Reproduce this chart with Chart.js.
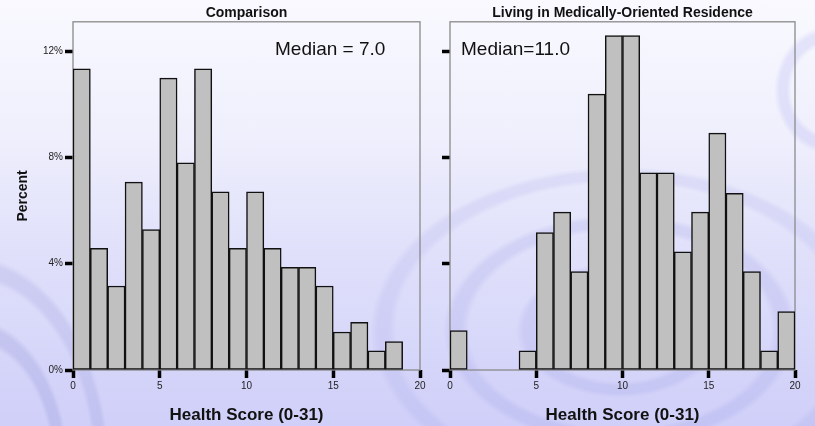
<!DOCTYPE html>
<html>
<head>
<meta charset="utf-8">
<title>Health Score histograms</title>
<script src="https://cdn.jsdelivr.net/npm/chart.js@4.4.1/dist/chart.umd.min.js"></script>
<style>
  html, body { margin: 0; padding: 0; }
  body {
    width: 815px;
    height: 426px;
    overflow: hidden;
    position: relative;
    background:
      radial-gradient(ellipse 260px 170px at 620px 330px, rgba(150,150,225,0) 0px, rgba(150,150,225,0) 30%, rgba(150,150,225,0.2) 33%, rgba(150,150,225,0.2) 37%, rgba(150,150,225,0) 40%, rgba(150,150,225,0) 58%, rgba(150,150,225,0.2) 61%, rgba(150,150,225,0.2) 65%, rgba(150,150,225,0) 68%, rgba(150,150,225,0) 86%, rgba(150,150,225,0.16) 89%, rgba(150,150,225,0.16) 93%, rgba(150,150,225,0) 96%),
      radial-gradient(ellipse 150px 230px at -30px 470px, rgba(140,140,210,0) 0px, rgba(140,140,210,0) 55%, rgba(140,140,210,0.25) 58%, rgba(140,140,210,0.25) 63%, rgba(140,140,210,0) 66%, rgba(140,140,210,0) 82%, rgba(140,140,210,0.2) 85%, rgba(140,140,210,0.2) 90%, rgba(140,140,210,0) 93%),
      radial-gradient(ellipse 70px 80px at 830px 90px, rgba(170,170,240,0) 0%, rgba(170,170,240,0) 55%, rgba(170,170,240,0.25) 62%, rgba(170,170,240,0.25) 72%, rgba(170,170,240,0) 80%),
      linear-gradient(to bottom, #f9f9ff 0%, #f0f0fd 30%, #e2e2fb 55%, #cfcff9 100%);
  }
  canvas { position: absolute; top: 0; }
  #leftChart { left: 0; }
  #rightChart { left: 430px; }
</style>
</head>
<body>
<canvas id="leftChart" width="430" height="426"></canvas>
<canvas id="rightChart" width="385" height="426"></canvas>
<script>
'use strict';

// histogram bins, one per score 0..19 (bin i covers i to i+1)
let bins = ['0', '1', '2', '3', '4', '5', '6', '7', '8', '9', '10', '11', '12', '13', '14', '15', '16', '17', '18', '19'];

// percent of people in each bin
let comparisonPercent = [11.33, 4.58, 3.16, 7.07, 5.28, 10.98, 7.79, 11.33, 6.70, 4.58, 6.70, 4.58, 3.86, 3.86, 3.16, 1.43, 1.79, 0.72, 1.07, null];
let residencePercent = [1.48, null, null, null, 0.72, 5.17, 5.94, 3.70, 10.38, 12.58, 12.58, 7.42, 7.42, 4.45, 5.94, 8.91, 6.65, 3.70, 0.72, 2.20];

let xTicks = [0, 5, 10, 15, 20];
let yTicks = [0, 4, 8, 12];
let yMax = 13.1;

let titles = ['Comparison', 'Living in Medically-Oriented Residence'];
let medianTexts = ['Median = 7.0', 'Median=11.0'];
let xTitle = 'Health Score (0-31)';
let yTitle = 'Percent';

Chart.defaults.font.family = '"Liberation Sans", Arial, Helvetica, sans-serif';
Chart.defaults.color = '#111';

// grey box round the plot area
let framePlugin = {
  id: 'frame',
  beforeDatasetsDraw(chart) {
    let a = chart.chartArea;
    let ctx = chart.ctx;
    ctx.save();
    ctx.strokeStyle = '#8a8a8a';
    ctx.lineWidth = 1.3;
    ctx.strokeRect(a.left, a.top, a.right - a.left, a.bottom - a.top);
    ctx.restore();
  }
};

// "Median = ..." note inside the plot
let medianPlugin = {
  id: 'median',
  afterDraw(chart, args, opts) {
    let a = chart.chartArea;
    let ctx = chart.ctx;
    ctx.save();
    ctx.font = '19px "Liberation Sans", Arial, sans-serif';
    ctx.fillStyle = '#111';
    ctx.textBaseline = 'middle';
    ctx.textAlign = 'left';
    ctx.fillText(opts.text, a.left + opts.dx, a.top + 28);
    ctx.restore();
  }
};

function makeHistogram(canvasId, values, idx, yWidth, showYLabels, padRight) {
  let ctx = document.getElementById(canvasId).getContext('2d');
  return new Chart(ctx, {
    type: 'bar',
    data: {
      labels: bins,
      datasets: [{
        data: values,
        backgroundColor: '#c0c0c0',
        borderColor: '#111',
        borderWidth: 1.5,
        borderSkipped: false,
        barPercentage: 1,
        categoryPercentage: 1
      }]
    },
    options: {
      responsive: false,
      animation: false,
      devicePixelRatio: 1,
      layout: { padding: { left: 0, right: padRight, top: 0, bottom: 0 } },
      plugins: {
        legend: { display: false },
        tooltip: { enabled: false },
        title: {
          display: true,
          text: titles[idx],
          fullSize: false,
          color: '#111',
          font: { size: 14, weight: 'bold' },
          padding: { top: 5, bottom: 0 }
        },
        median: { text: medianTexts[idx], dx: idx === 0 ? 202 : 11 }
      },
      scales: {
        x: {
          type: 'category',
          display: false
        },
        // bin edges 0..20 for the ticks under the bars
        xEdge: {
          type: 'linear',
          position: 'bottom',
          min: 0,
          max: 20,
          offset: false,
          afterBuildTicks(scale) {
            scale.ticks = xTicks.map(v => ({ value: v }));
          },
          afterFit(scale) { scale.height = 56; },
          border: { display: false },
          grid: {
            offset: false,
            drawOnChartArea: false,
            drawTicks: true,
            tickLength: 8,
            tickWidth: 3.5,
            tickColor: '#000'
          },
          ticks: {
            padding: 2,
            color: '#222',
            font: { size: 10 },
            maxRotation: 0
          },
          title: {
            display: true,
            text: xTitle,
            color: '#111',
            font: { size: 17, weight: 'bold' },
            padding: { top: 0, bottom: 0 }
          }
        },
        y: {
          min: 0,
          max: yMax,
          afterBuildTicks(scale) {
            scale.ticks = yTicks.map(v => ({ value: v }));
          },
          afterFit(scale) { scale.width = yWidth; },
          border: { display: false },
          grid: {
            drawOnChartArea: false,
            drawTicks: true,
            tickLength: 8,
            tickWidth: 3.5,
            tickColor: '#000'
          },
          ticks: {
            padding: 2,
            color: '#222',
            font: { size: 10 },
            callback: v => showYLabels ? v + '%' : ''
          },
          title: {
            display: showYLabels,
            text: yTitle,
            color: '#111',
            font: { size: 14, weight: 'bold' },
            padding: { top: 15, bottom: 0 }
          }
        }
      }
    },
    plugins: [framePlugin, medianPlugin]
  });
}

makeHistogram('leftChart', comparisonPercent, 0, 73, true, 10);
makeHistogram('rightChart', residencePercent, 1, 20, false, 20);
</script>
</body>
</html>
